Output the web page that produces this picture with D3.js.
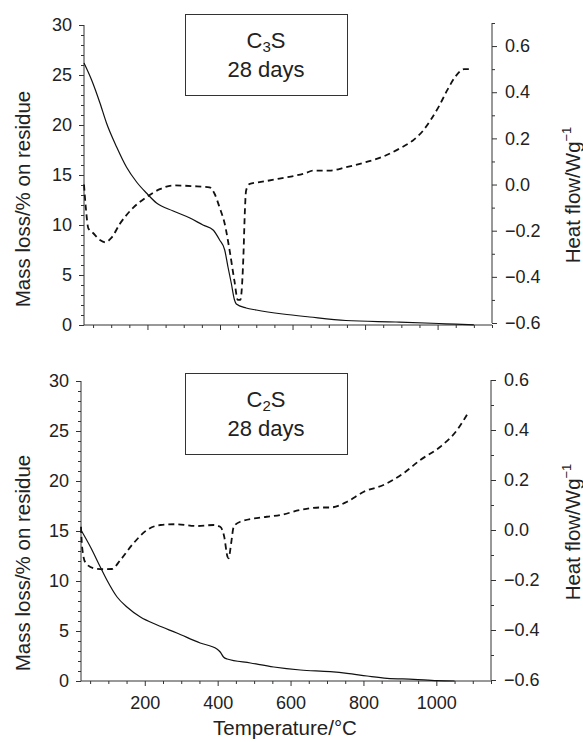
<!DOCTYPE html>
<html>
<head>
<meta charset="utf-8">
<script src="https://cdn.jsdelivr.net/npm/d3@7"></script>
<style>
  body { margin: 0; background: #fff; }
  svg { display: block; font-family: "Liberation Sans", Arial, sans-serif; }
</style>
</head>
<body>
<div id="chart"></div>
<script>
// temperatures (°C) and values
const c3sMassT = [25, 46, 69, 87, 115, 142, 170, 197, 225, 271, 317, 353, 381, 399, 413, 422, 431, 440, 445, 472, 500, 573, 647, 747, 885, 1004, 1050, 1100];
const c3sMassV = [26.2, 24.5, 22.2, 20.2, 17.8, 15.8, 14.3, 13.2, 12.2, 11.4, 10.7, 10.0, 9.5, 8.5, 7.5, 5.8, 4.2, 2.5, 2.1, 1.7, 1.5, 1.1, 0.8, 0.45, 0.3, 0.15, 0.08, 0.02];
const c3sHeatT = [25, 30, 37, 50, 69, 83, 101, 124, 161, 197, 234, 271, 326, 371, 385, 399, 413, 427, 440, 449, 456, 461, 465, 468, 472, 482, 509, 564, 637, 656, 702, 747, 802, 848, 894, 931, 958, 981, 1004, 1027, 1050, 1073, 1091];
const c3sHeatV = [0.0, -0.1, -0.19, -0.21, -0.24, -0.25, -0.23, -0.17, -0.1, -0.055, -0.02, -0.004, -0.007, -0.012, -0.04, -0.1, -0.17, -0.29, -0.42, -0.5, -0.5, -0.43, -0.29, -0.14, -0.026, 0.003, 0.01, 0.026, 0.05, 0.06, 0.06, 0.075, 0.097, 0.12, 0.155, 0.19, 0.23, 0.28, 0.34, 0.41, 0.47, 0.5, 0.5];

const c2sMassT = [25, 51, 78, 96, 124, 151, 188, 234, 288, 352, 398, 407, 416, 426, 490, 554, 627, 709, 755, 810, 865, 938, 1002, 1050];
const c2sMassV = [15.1, 13.4, 11.4, 10.1, 8.4, 7.4, 6.4, 5.6, 4.8, 3.8, 3.2, 2.9, 2.4, 2.2, 1.8, 1.4, 1.1, 0.93, 0.77, 0.5, 0.27, 0.17, 0.03, 0.0];
const c2sHeatT = [25, 28, 37, 60, 87, 110, 133, 169, 206, 243, 288, 343, 389, 407, 418, 427, 430, 437, 444, 462, 535, 572, 627, 682, 709, 755, 801, 855, 910, 956, 1011, 1057, 1089];
const c2sHeatV = [0.013, -0.067, -0.13, -0.153, -0.157, -0.156, -0.12, -0.053, 0.0, 0.02, 0.023, 0.016, 0.02, 0.013, -0.027, -0.107, -0.113, -0.053, 0.013, 0.033, 0.053, 0.06, 0.08, 0.09, 0.09, 0.113, 0.153, 0.18, 0.227, 0.28, 0.333, 0.4, 0.473];

const tempDomain = [25, 1150];
const tempTicks = [200, 400, 600, 800, 1000];
const massTicks = [0, 5, 10, 15, 20, 25, 30];

const width = 583, height = 742;

const svg = d3.select("#chart").append("svg")
    .attr("width", width)
    .attr("height", height);

const panels = [
    {
        sub: "3", massT: c3sMassT, massV: c3sMassV, heatT: c3sHeatT, heatV: c3sHeatV,
        left: 84, right: 492, top: 25, bottom: 325,
        heatDomain: [-0.6, 0.7], heatRange: [323, 23],
        heatTicks: [-0.6, -0.4, -0.2, 0.0, 0.2, 0.4, 0.6],
        heatMinor: [-0.5, -0.3, -0.1, 0.1, 0.3, 0.5, 0.7],
        labels: false, leftTitleY: 199, rightTitleY: 195,
        box: { x: 185, y: 14, w: 162, h: 81 }
    },
    {
        sub: "2", massT: c2sMassT, massV: c2sMassV, heatT: c2sHeatT, heatV: c2sHeatV,
        left: 81, right: 491, top: 381, bottom: 681,
        heatDomain: [-0.6, 0.6], heatRange: [680, 380],
        heatTicks: [-0.6, -0.4, -0.2, 0.0, 0.2, 0.4, 0.6],
        heatMinor: [-0.5, -0.3, -0.1, 0.1, 0.3, 0.5],
        labels: true, leftTitleY: 563, rightTitleY: 532,
        box: { x: 185, y: 373, w: 162, h: 81 }
    }
];

const axisColor = "#333";

function styleAxis(g, fontSize) {
    g.selectAll("path, line").attr("stroke", axisColor).attr("stroke-width", 1);
    g.selectAll("text").attr("fill", "#222").style("font-size", fontSize + "px")
        .style("font-family", "'Liberation Sans', Arial, sans-serif");
}

panels.forEach(p => {
    const x = d3.scaleLinear().domain(tempDomain).range([p.left, p.right]);
    const yMass = d3.scaleLinear().domain([0, 30]).range([p.bottom, p.top]);
    const yHeat = d3.scaleLinear().domain(p.heatDomain).range(p.heatRange);

    const g = svg.append("g");

    // x axis: minor every 50, major every 200
    const xMinor = d3.range(50, 1151, 50).filter(t => t % 200 !== 0);
    g.append("g")
        .attr("transform", `translate(0,${p.bottom})`)
        .call(d3.axisBottom(x).tickValues(xMinor).tickSize(3).tickFormat(""))
        .call(a => a.select(".domain").remove())
        .call(a => styleAxis(a, 18));
    g.append("g")
        .attr("transform", `translate(0,${p.bottom})`)
        .call(d3.axisBottom(x).tickValues(tempTicks).tickSize(5).tickPadding(10)
            .tickFormat(p.labels ? d3.format("d") : ""))
        .call(a => a.select(".domain").attr("d", `M${p.left},0H${p.right}`))
        .call(a => styleAxis(a, 18));

    // left axis
    g.append("g")
        .attr("transform", `translate(${p.left},0)`)
        .call(d3.axisLeft(yMass).tickValues(d3.range(0, 31, 1).filter(v => v % 5)).tickSize(3).tickFormat(""))
        .call(a => a.select(".domain").remove())
        .call(a => styleAxis(a, 18));
    g.append("g")
        .attr("transform", `translate(${p.left},0)`)
        .call(d3.axisLeft(yMass).tickValues(massTicks).tickSize(5).tickPadding(7).tickFormat(d3.format("d")))
        .call(a => a.select(".domain").attr("d", `M0,${p.top}V${p.bottom}`))
        .call(a => styleAxis(a, 18));

    // right axis
    g.append("g")
        .attr("transform", `translate(${p.right},0)`)
        .call(d3.axisRight(yHeat).tickValues(p.heatMinor).tickSize(3).tickFormat(""))
        .call(a => a.select(".domain").remove())
        .call(a => styleAxis(a, 18));
    g.append("g")
        .attr("transform", `translate(${p.right},0)`)
        .call(d3.axisRight(yHeat).tickValues(p.heatTicks).tickSize(5).tickPadding(8).tickFormat(d3.format(".1f")))
        .call(a => a.select(".domain").attr("d", `M0,${p.heatRange[1]}V${p.heatRange[0]}`))
        .call(a => styleAxis(a, 18));

    // curves
    const massLine = d3.line()
        .x(d => x(d[0])).y(d => yMass(d[1]))
        .curve(d3.curveMonotoneX);
    const heatLine = d3.line()
        .x(d => x(d[0])).y(d => yHeat(d[1]))
        .curve(d3.curveMonotoneX);

    g.append("path")
        .datum(d3.zip(p.massT, p.massV))
        .attr("d", massLine)
        .attr("fill", "none")
        .attr("stroke", "#111")
        .attr("stroke-width", 1.2);

    g.append("path")
        .datum(d3.zip(p.heatT, p.heatV))
        .attr("d", heatLine)
        .attr("fill", "none")
        .attr("stroke", "#111")
        .attr("stroke-width", 1.8)
        .attr("stroke-dasharray", "6,4");

    // label box
    g.append("rect")
        .attr("x", p.box.x + 0.5).attr("y", p.box.y + 0.5)
        .attr("width", p.box.w).attr("height", p.box.h)
        .attr("fill", "#fff").attr("stroke", axisColor).attr("stroke-width", 1);

    const cx = p.box.x + p.box.w / 2;
    const t1 = g.append("text")
        .attr("x", cx).attr("y", p.box.y + 34)
        .attr("text-anchor", "middle")
        .style("font-size", "22px")
        .attr("fill", "#222");
    t1.append("tspan").text("C");
    t1.append("tspan").attr("dy", 4).style("font-size", "15px").text(p.sub);
    t1.append("tspan").attr("dy", -4).text("S");

    g.append("text")
        .attr("x", cx).attr("y", p.box.y + 63)
        .attr("text-anchor", "middle")
        .style("font-size", "22px")
        .attr("fill", "#222")
        .text("28 days");

    // axis titles
    g.append("text")
        .attr("transform", `translate(30,${p.leftTitleY}) rotate(-90)`)
        .attr("text-anchor", "middle")
        .style("font-size", "20.5px")
        .attr("fill", "#222")
        .text("Mass loss/% on residue");

    const rt = g.append("text")
        .attr("transform", `translate(580,${p.rightTitleY}) rotate(-90)`)
        .attr("text-anchor", "middle")
        .style("font-size", "20.5px")
        .attr("fill", "#222");
    rt.append("tspan").text("Heat flow/Wg");
    rt.append("tspan").attr("dy", -9).style("font-size", "13px").text("−1");
});

svg.append("text")
    .attr("x", 285).attr("y", 735)
    .attr("text-anchor", "middle")
    .style("font-size", "20.5px")
    .attr("fill", "#222")
    .text("Temperature/°C");
</script>
</body>
</html>
